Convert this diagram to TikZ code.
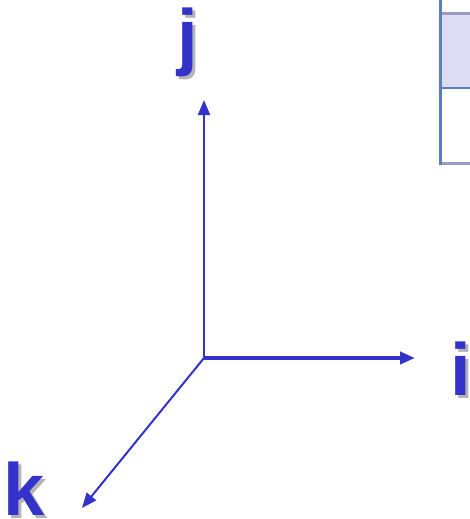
\documentclass[tikz,border=0pt]{standalone}
\usepackage{fontspec}
\setmainfont{Liberation Sans}
\usetikzlibrary{arrows.meta}
\definecolor{axisblue}{HTML}{3333CC}
\definecolor{shadowgray}{HTML}{B4B4B4}
\definecolor{boxedge}{HTML}{5A7EBE}
\definecolor{boxfill}{HTML}{DCDCF2}
\definecolor{boxband}{HTML}{9A9AC8}
\begin{document}
\begin{tikzpicture}[x=1pt,y=-1pt,
  axis/.style={draw=axisblue,-{Triangle[length=15pt,width=12pt]}},
  lettershadow/.style={text=shadowgray,font=\bfseries\fontsize{74}{74}\selectfont,inner sep=0pt,anchor=base west},
  letter/.style={text=axisblue,font=\bfseries\fontsize{74}{74}\selectfont,inner sep=0pt,anchor=base west}]
\useasboundingbox (0,0) rectangle (470,519);
% partial box at top right
\fill[white] (440,-2) rectangle (475,165);
\fill[boxfill] (440,13) rectangle (475,88);
\draw[boxband,line width=3pt] (441,14) -- (475,14);
\draw[boxedge,line width=2pt] (441,88) -- (475,88);
\draw[boxband,line width=3pt] (441,163) -- (475,163);
\draw[boxedge,line width=2.5pt] (440.5,-2) -- (440.5,165);
% origin
\coordinate (o) at (204,358);
\coordinate (jt) at (204,100);
\coordinate (it) at (415,358);
\coordinate (kt) at (82,508);
\draw[axis,line width=2pt] (o) -- (jt);
\draw[axis,line width=4pt] (o) -- (it);
\draw[axis,line width=2pt] (o) -- (kt);
% labels with shadows
\node[lettershadow] (js) at (180,64) {j};
\node[letter] (j) at (177,61) {j};
\node[lettershadow] (is) at (453,398) {i};
\node[letter] (i) at (450,395) {i};
\node[lettershadow] (ks) at (6,518) {k};
\node[letter] (k) at (3,515) {k};
\end{tikzpicture}
\end{document}
